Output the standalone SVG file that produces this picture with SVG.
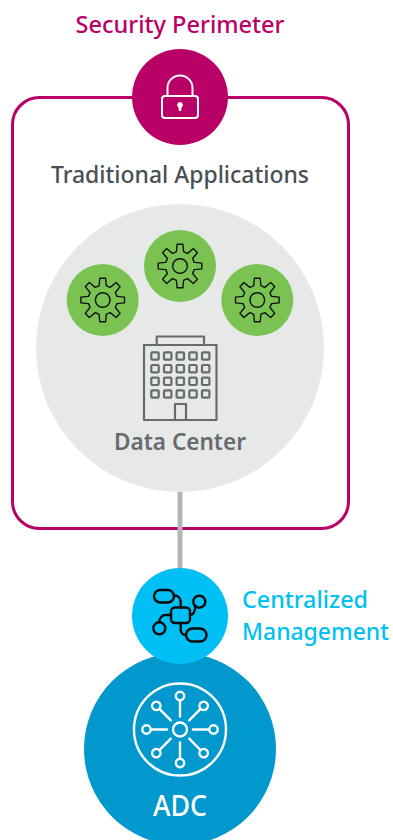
<svg xmlns="http://www.w3.org/2000/svg" xmlns:xlink="http://www.w3.org/1999/xlink" width="393" height="840" viewBox="0 0 393 840">
<style>
text{font-family:"Noto Sans","Liberation Sans",sans-serif;font-weight:500}
.t24{font-size:24px}
.gear{fill:none;stroke:#111;stroke-width:1.4;stroke-linejoin:round}
.bld{fill:none;stroke:#666b70;stroke-width:2.2;stroke-linejoin:round}
.hub{fill:none;stroke:#fff;stroke-width:2.4;stroke-linecap:round}
.proc{fill:none;stroke:#0a0a0a;stroke-width:2.4;stroke-linecap:round}
</style>
<defs>
<path id="tooth" d="M-3.600-14.300L-2.900-21.800H2.900L3.600-14.300L7.800-12.400"/>
<g id="gearIcon" class="gear">
<circle r="7.300"/>
<use xlink:href="#tooth" href="#tooth"/>
<use xlink:href="#tooth" href="#tooth" transform="rotate(45)"/>
<use xlink:href="#tooth" href="#tooth" transform="rotate(90)"/>
<use xlink:href="#tooth" href="#tooth" transform="rotate(135)"/>
<use xlink:href="#tooth" href="#tooth" transform="rotate(180)"/>
<use xlink:href="#tooth" href="#tooth" transform="rotate(225)"/>
<use xlink:href="#tooth" href="#tooth" transform="rotate(270)"/>
<use xlink:href="#tooth" href="#tooth" transform="rotate(315)"/>
</g>
<rect id="win" x="-3.700" y="-3.700" width="7.400" height="7.400" rx="1"/>
<g id="spoke"><path d="M0-13V-28"/><circle cy="-33.500" r="4.200"/></g>
</defs>
<g id="perimeter">
<rect x="12.500" y="97.500" width="336" height="431" rx="27" fill="#fff" stroke="#b90066" stroke-width="3"/>
<text class="t24" x="180" y="183" text-anchor="middle" fill="#4a4f54" textLength="258" lengthAdjust="spacingAndGlyphs">Traditional Applications</text>
</g>
<g id="connectors">
<line x1="180" y1="488" x2="180" y2="572" stroke="#b3b5b7" stroke-width="5"/>
</g>
<g id="security">
<text class="t24" x="180" y="33" text-anchor="middle" fill="#b90066" textLength="209" lengthAdjust="spacingAndGlyphs">Security Perimeter</text>
<circle cx="180" cy="97" r="48" fill="#b90066"/>
<g fill="none" stroke="#fff" stroke-width="2">
<rect x="162" y="96" width="36" height="22" rx="3"/>
<path d="M167.500 96V88A12.500 12.500 0 0 1 192.500 88V96"/>
</g>
<path d="M180 102a3 3 0 0 1 1.500 5.500L181.200 111H178.800L178.500 107.500A3 3 0 0 1 180 102Z" fill="#fff"/>
</g>
<g id="datacenter">
<circle cx="180" cy="348" r="144" fill="#e7e9e8"/>
<g class="bld">
<rect x="144" y="345" width="72.500" height="75"/>
<path d="M156.700 345V336.500H204V345"/>
<path d="M175 420V404H186V420"/>
<use xlink:href="#win" href="#win" x="155" y="356"/><use xlink:href="#win" href="#win" x="167.700" y="356"/><use xlink:href="#win" href="#win" x="180.300" y="356"/><use xlink:href="#win" href="#win" x="193" y="356"/><use xlink:href="#win" href="#win" x="205.700" y="356"/>
<use xlink:href="#win" href="#win" x="155" y="368.700"/><use xlink:href="#win" href="#win" x="167.700" y="368.700"/><use xlink:href="#win" href="#win" x="180.300" y="368.700"/><use xlink:href="#win" href="#win" x="193" y="368.700"/><use xlink:href="#win" href="#win" x="205.700" y="368.700"/>
<use xlink:href="#win" href="#win" x="155" y="381.300"/><use xlink:href="#win" href="#win" x="167.700" y="381.300"/><use xlink:href="#win" href="#win" x="180.300" y="381.300"/><use xlink:href="#win" href="#win" x="193" y="381.300"/><use xlink:href="#win" href="#win" x="205.700" y="381.300"/>
<use xlink:href="#win" href="#win" x="155" y="394"/><use xlink:href="#win" href="#win" x="167.700" y="394"/><use xlink:href="#win" href="#win" x="180.300" y="394"/><use xlink:href="#win" href="#win" x="193" y="394"/><use xlink:href="#win" href="#win" x="205.700" y="394"/>
</g>
<text class="t24" x="180" y="450" text-anchor="middle" fill="#666b70" style="font-weight:600" textLength="132" lengthAdjust="spacingAndGlyphs">Data Center</text>
</g>
<g id="gear1"><circle cx="102.700" cy="300" r="36" fill="#7ac353"/><use xlink:href="#gearIcon" href="#gearIcon" x="102.700" y="300"/></g>
<g id="gear2"><circle cx="180" cy="266" r="36" fill="#7ac353"/><use xlink:href="#gearIcon" href="#gearIcon" x="180" y="266"/></g>
<g id="gear3"><circle cx="257.300" cy="300" r="36" fill="#7ac353"/><use xlink:href="#gearIcon" href="#gearIcon" x="257.300" y="300"/></g>
<g id="adc">
<circle cx="180" cy="749" r="96" fill="#0098cd"/>
<g class="hub">
<circle cx="180" cy="729.500" r="46"/>
<circle cx="180" cy="729.500" r="7"/>
<g transform="translate(180 729.500)">
<use xlink:href="#spoke" href="#spoke"/>
<use xlink:href="#spoke" href="#spoke" transform="rotate(45)"/>
<use xlink:href="#spoke" href="#spoke" transform="rotate(90)"/>
<use xlink:href="#spoke" href="#spoke" transform="rotate(135)"/>
<use xlink:href="#spoke" href="#spoke" transform="rotate(180)"/>
<use xlink:href="#spoke" href="#spoke" transform="rotate(225)"/>
<use xlink:href="#spoke" href="#spoke" transform="rotate(270)"/>
<use xlink:href="#spoke" href="#spoke" transform="rotate(315)"/>
</g>
</g>
<text x="180" y="816" text-anchor="middle" fill="#fff" font-size="29" textLength="54" lengthAdjust="spacingAndGlyphs">ADC</text>
</g>
<g id="management">
<circle cx="180" cy="616" r="48" fill="#00bff5"/>
<g class="proc">
<rect x="171" y="607.500" width="19" height="15.500" rx="4"/>
<rect x="154" y="590" width="20" height="12.500" rx="6.250"/>
<circle cx="199.300" cy="601.700" r="6"/>
<circle cx="159.300" cy="628.300" r="6"/>
<rect x="186" y="628.500" width="20.500" height="13" rx="6.500"/>
<path d="M174 595.500C178 595.500 180.700 598 180.700 602V607.500"/>
<path d="M190 615C193 615 195 612 195.500 606"/>
<path d="M171 615H166C162 615 159.500 618 159.300 622"/>
<path d="M180.700 623V630C180.700 633 183 635 186 635"/>
</g>
<text class="t24" x="242" y="608" fill="#00bff5" textLength="126" lengthAdjust="spacingAndGlyphs">Centralized</text>
<text x="242" y="640" fill="#00bff5" font-size="23" textLength="147" lengthAdjust="spacingAndGlyphs">Management</text>
</g>
</svg>
